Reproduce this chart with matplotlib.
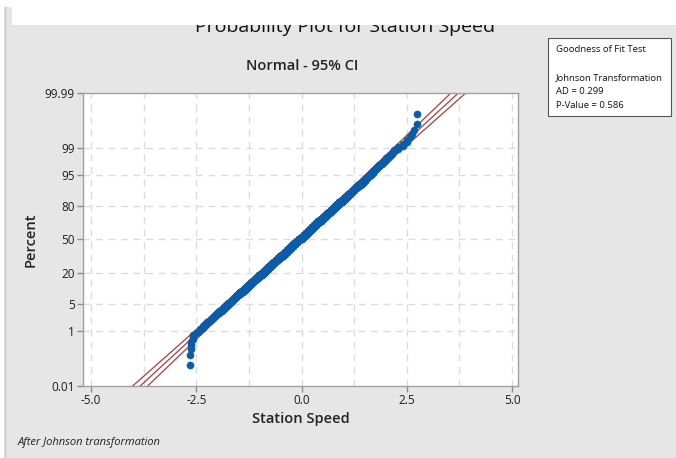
import numpy as np
import matplotlib
matplotlib.use('Agg')
import matplotlib.pyplot as plt
from matplotlib.patches import Rectangle
from statistics import NormalDist

plt.rcParams['font.family'] = ['Open Sans', 'DejaVu Sans']

speed_values = [-2.65, -2.62, -2.58,
                -2.5, -2.45, -2.4, -2.35, -2.3, -2.25, -2.2, -2.15, -2.1, -2.05,
                -2.0, -1.95, -1.9, -1.85, -1.8, -1.75, -1.7, -1.65, -1.6, -1.55,
                -1.5, -1.45, -1.4, -1.35, -1.3, -1.25, -1.2, -1.15, -1.1, -1.05,
                -1.0, -0.95, -0.9, -0.85, -0.8, -0.75, -0.7, -0.65, -0.6, -0.55,
                -0.5, -0.45, -0.4, -0.35, -0.3, -0.25, -0.2, -0.15, -0.1, -0.05,
                0.0, 0.05, 0.1, 0.15, 0.2, 0.25, 0.3, 0.35, 0.4, 0.45,
                0.5, 0.55, 0.6, 0.65, 0.7, 0.75, 0.8, 0.85, 0.9, 0.95,
                1.0, 1.05, 1.1, 1.15, 1.2, 1.25, 1.3, 1.35, 1.4, 1.45,
                1.5, 1.55, 1.6, 1.65, 1.7, 1.75, 1.8, 1.85, 1.9, 1.95,
                2.0, 2.05, 2.1, 2.15, 2.2,
                2.3, 2.4, 2.5, 2.57, 2.63, 2.66, 2.73, 2.75]
speed_counts = [2, 3, 3,
                1, 1, 2, 2, 2, 2, 2, 2, 3, 3,
                3, 4, 4, 4, 5, 5, 5, 6, 6, 7,
                7, 8, 8, 9, 9, 10, 10, 11, 11, 12,
                13, 13, 14, 14, 15, 15, 16, 16, 17, 17,
                18, 18, 18, 19, 19, 19, 19, 19, 19, 19,
                20, 20, 20, 19, 19, 19, 18, 18, 18, 17,
                17, 16, 16, 15, 15, 14, 14, 13, 13, 12,
                11, 11, 10, 10, 9, 9, 8, 8, 7, 7,
                7, 6, 5, 5, 5, 4, 4, 4, 3, 3,
                3, 2, 2, 2, 2,
                2, 2, 2, 1, 1, 1, 1, 1]

pct_ticks = [0.01, 1, 5, 20, 50, 80, 95, 99, 99.99]
pct_labels = ['0.01', '1', '5', '20', '50', '80', '95', '99', '99.99']
x_ticks = [-5.0, -2.5, 0.0, 2.5, 5.0]

nd = NormalDist()
data = np.sort(np.repeat(speed_values, speed_counts))
n = len(data)
# median ranks
pct = (np.arange(1, n + 1) - 0.3) / (n + 0.4)
z_pts = np.array([nd.inv_cdf(p) for p in pct])

mu = data.mean()
sd = data.std()
z_line = np.linspace(-4, 4, 300)
fit = mu + sd * z_line
half = 1.96 * sd * np.sqrt((1 + z_line ** 2 / 2) / n)

W, H = 676, 458
fig = plt.figure(figsize=(W / 100, H / 100), dpi=100, facecolor='#E6E6E6')
ax = fig.add_axes([83 / W, 1 - 386 / H, (518 - 83) / W, (386 - 93) / H])
ax.set_facecolor('white')

line_col = '#B03A3A'
ax.plot(fit - half, z_line, color=line_col, lw=0.9, zorder=2)
ax.plot(fit, z_line, color=line_col, lw=0.9, zorder=2)
ax.plot(fit + half, z_line, color=line_col, lw=0.9, zorder=2)
ax.plot(data, z_pts, 'o', ms=5.2, color='#0B5BA8', mec='#0B5BA8', mew=0.3, zorder=3)

z_ticks = [nd.inv_cdf(p / 100) for p in pct_ticks]
ax.set_ylim(z_ticks[0], z_ticks[-1])
ax.set_xlim(-5.19, 5.14)
ax.set_yticks(z_ticks)
ax.set_yticklabels(pct_labels)
ax.set_xticks(x_ticks)
ax.set_xticklabels(['%.1f' % v for v in x_ticks])

grid_kw = dict(color='#DCDCDC', lw=1, ls=(0, (5, 4)), zorder=1)
for gx in np.arange(-5, 5.01, 1.25):
    ax.axvline(gx, **grid_kw)
for gz in z_ticks[1:-1]:
    ax.axhline(gz, **grid_kw)

for s in ax.spines.values():
    s.set_color('#A0A0A0')
    s.set_linewidth(1)
ax.tick_params(direction='out', length=4, width=1, color='#8C8C8C',
               labelsize=8.5, labelcolor='#1E1E1E', pad=2)

ax.set_xlabel('Station Speed', fontsize=10.5, fontweight='semibold', color='#222222', labelpad=3)
ax.set_ylabel('Percent', fontsize=10.5, fontweight='semibold', color='#222222', labelpad=5)

# title is partly hidden by a white strip at the top of the window
fig.text(345 / W, 1 - 32 / H, 'Probability Plot for Station Speed', ha='center',
         va='baseline', fontsize=14, color='#111111', zorder=2)
fig.patches.append(Rectangle((12 / W, 1 - 25 / H), 1, 25 / H, transform=fig.transFigure,
                             facecolor='white', edgecolor='none', zorder=5))
fig.patches.append(Rectangle((0, 1 - 7 / H), 1, 7 / H, transform=fig.transFigure,
                             facecolor='white', edgecolor='none', zorder=5))
fig.patches.append(Rectangle((0, 0), 4 / W, 1, transform=fig.transFigure,
                             facecolor='white', edgecolor='none', zorder=5))
fig.lines.append(plt.Line2D([4.5 / W, 4.5 / W], [0, 1 - 7 / H], transform=fig.transFigure,
                            color='#C8C8C8', lw=1, zorder=6))

fig.text(302 / W, 1 - 66 / H, 'Normal - 95% CI', ha='center', va='center',
         fontsize=10.5, fontweight='semibold', color='#222222')

# goodness of fit box
fig.patches.append(Rectangle((548 / W, 1 - 116 / H), (671 - 548) / W, (116 - 38) / H,
                             transform=fig.transFigure, facecolor='white',
                             edgecolor='#555555', lw=0.8, zorder=2))
box_lines = [('Goodness of Fit Test', 50), ('Johnson Transformation', 78),
             ('AD = 0.299', 92), ('P-Value = 0.586', 106)]
for txt, yy in box_lines:
    fig.text(556 / W, 1 - yy / H, txt, ha='left', va='center', fontsize=6.8,
             color='#111111', zorder=3)

fig.text(18 / W, 1 - 443 / H, 'After Johnson transformation', ha='left', va='center',
         fontsize=8, style='italic', color='#222222')

fig.savefig('out.png', dpi=100, facecolor=fig.get_facecolor())
